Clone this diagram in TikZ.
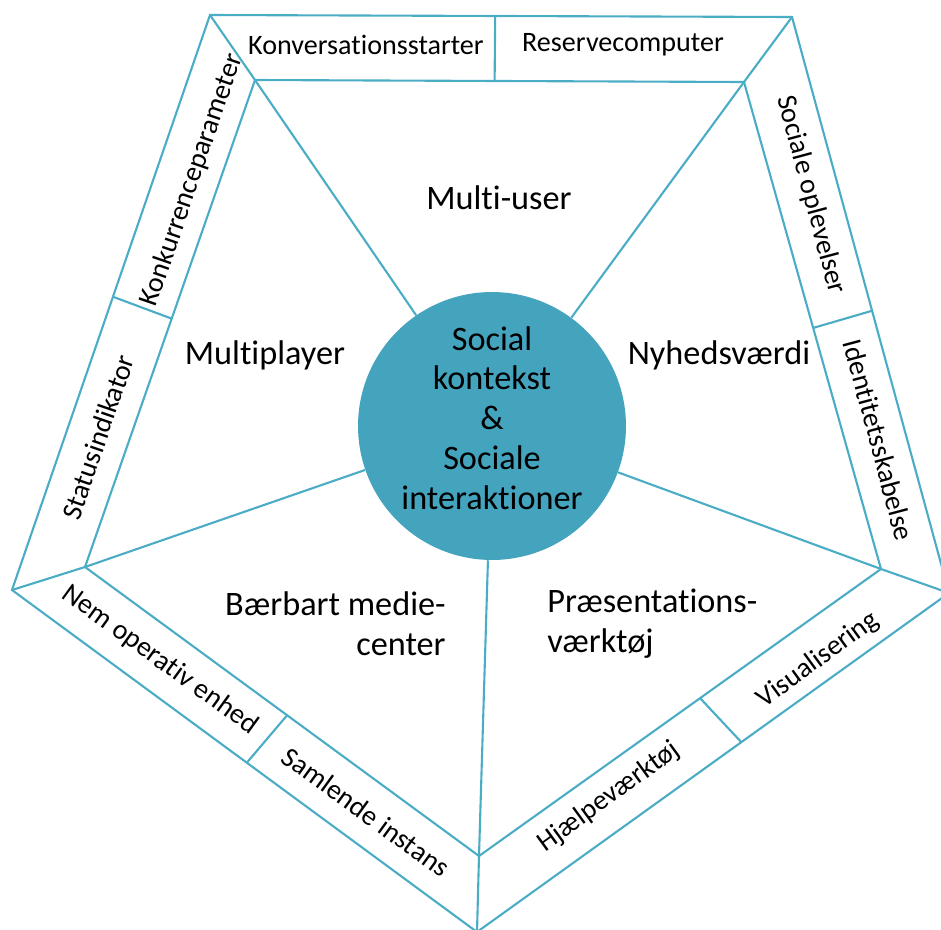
\documentclass[tikz,border=0pt]{standalone}
\usepackage{fontspec}
\setmainfont{Carlito}[Ligatures=NoCommon]
\usetikzlibrary{calc}
\definecolor{aqua}{HTML}{4BACC6}
\definecolor{aquafill}{HTML}{44A3BD}

\begin{document}
\begin{tikzpicture}[x=0.02cm, y=-0.02cm,
    edge/.style={draw=aqua, line width=1.2pt},
    panel/.style={font=\fontsize{16}{18}\selectfont, inner sep=0pt},
    field/.style={font=\fontsize{19.5}{22.7}\selectfont, inner sep=0pt}]
\useasboundingbox (0,0) rectangle (941,930);
% corners of the two pentagons
\coordinate (oTL) at (210,15);
\coordinate (oTR) at (792,17);
\coordinate (oR) at (949,593);
\coordinate (oB) at (477,932);
\coordinate (oL) at (12,590);
\coordinate (iTL) at (255,80);
\coordinate (iTR) at (744,82);
\coordinate (iR) at (881,569);
\coordinate (iB) at (479,856);
\coordinate (iL) at (85,567);

\node[circle, fill=aquafill, minimum size=5.36cm, inner sep=0pt] (hub) at (492,426) {};
\node[field, align=center] (hubtext) at (492,418) {Social\\kontekst\\\&\\Sociale\\interaktioner};

\draw[edge] (oTL) -- (oTR) -- (oR) -- (oB) -- (oL) -- cycle;
\draw[edge] (iTL) -- (iTR) -- (iR) -- (iB) -- (iL) -- cycle;
\foreach \c in {TL,TR,R,B,L}
  \draw[edge] (o\c) -- (i\c) (i\c) -- (hub);

% dividers in the band
\coordinate (dT1) at ($(oTL)!0.49!(oTR)$);
\coordinate (dT2) at ($(iTL)!0.49!(iTR)$);
\coordinate (dL1) at ($(oL)!0.51!(oTL)$);
\coordinate (dL2) at ($(iL)!0.51!(iTL)$);
\coordinate (dR1) at ($(oTR)!0.51!(oR)$);
\coordinate (dR2) at ($(iTR)!0.505!(iR)$);
\coordinate (dBL1) at ($(oL)!0.505!(oB)$);
\coordinate (dBL2) at ($(iL)!0.513!(iB)$);
\coordinate (dBR1) at ($(oB)!0.56!(oR)$);
\coordinate (dBR2) at ($(iB)!0.55!(iR)$);
\foreach \d in {T,L,R,BL,BR}
  \draw[edge] (d\d1) -- (d\d2);

% band labels
\node[panel] (konv) at (366,45) {Konversationsstarter};
\node[panel] (reserve) at (623,45) {Reservecomputer};
\node[panel, rotate=71] (konk) at (192,180) {Konkurrenceparameter};
\node[panel, rotate=71] (status) at (98,437) {Statusindikator};
\node[panel, rotate=-75] (oplev) at (811,195) {Sociale oplevelser};
\node[panel, rotate=-75] (ident) at (879,440) {Identitetsskabelse};
\node[panel, rotate=-36] (nem) at (160,660) {Nem operativ enhed};
\node[panel, rotate=-36] (saml) at (366,812) {Samlende instans};
\node[panel, rotate=36] (hjaelp) at (609,797) {Hjælpeværktøj};
\node[panel, rotate=36] (visual) at (818,660) {Visualisering};

% field labels
\node[field] (multiuser) at (499,198) {Multi-user};
\node[field] (multiplayer) at (265,355) {Multiplayer};
\node[field] (nyheds) at (719,355) {Nyhedsværdi};
\node[field, align=right, anchor=east] (medie) at (446,624) {Bærbart medie-\\center};
\node[field, align=left, anchor=west] (praes) at (547,624) {Præsentations-\\værktøj};
\end{tikzpicture}
\end{document}
